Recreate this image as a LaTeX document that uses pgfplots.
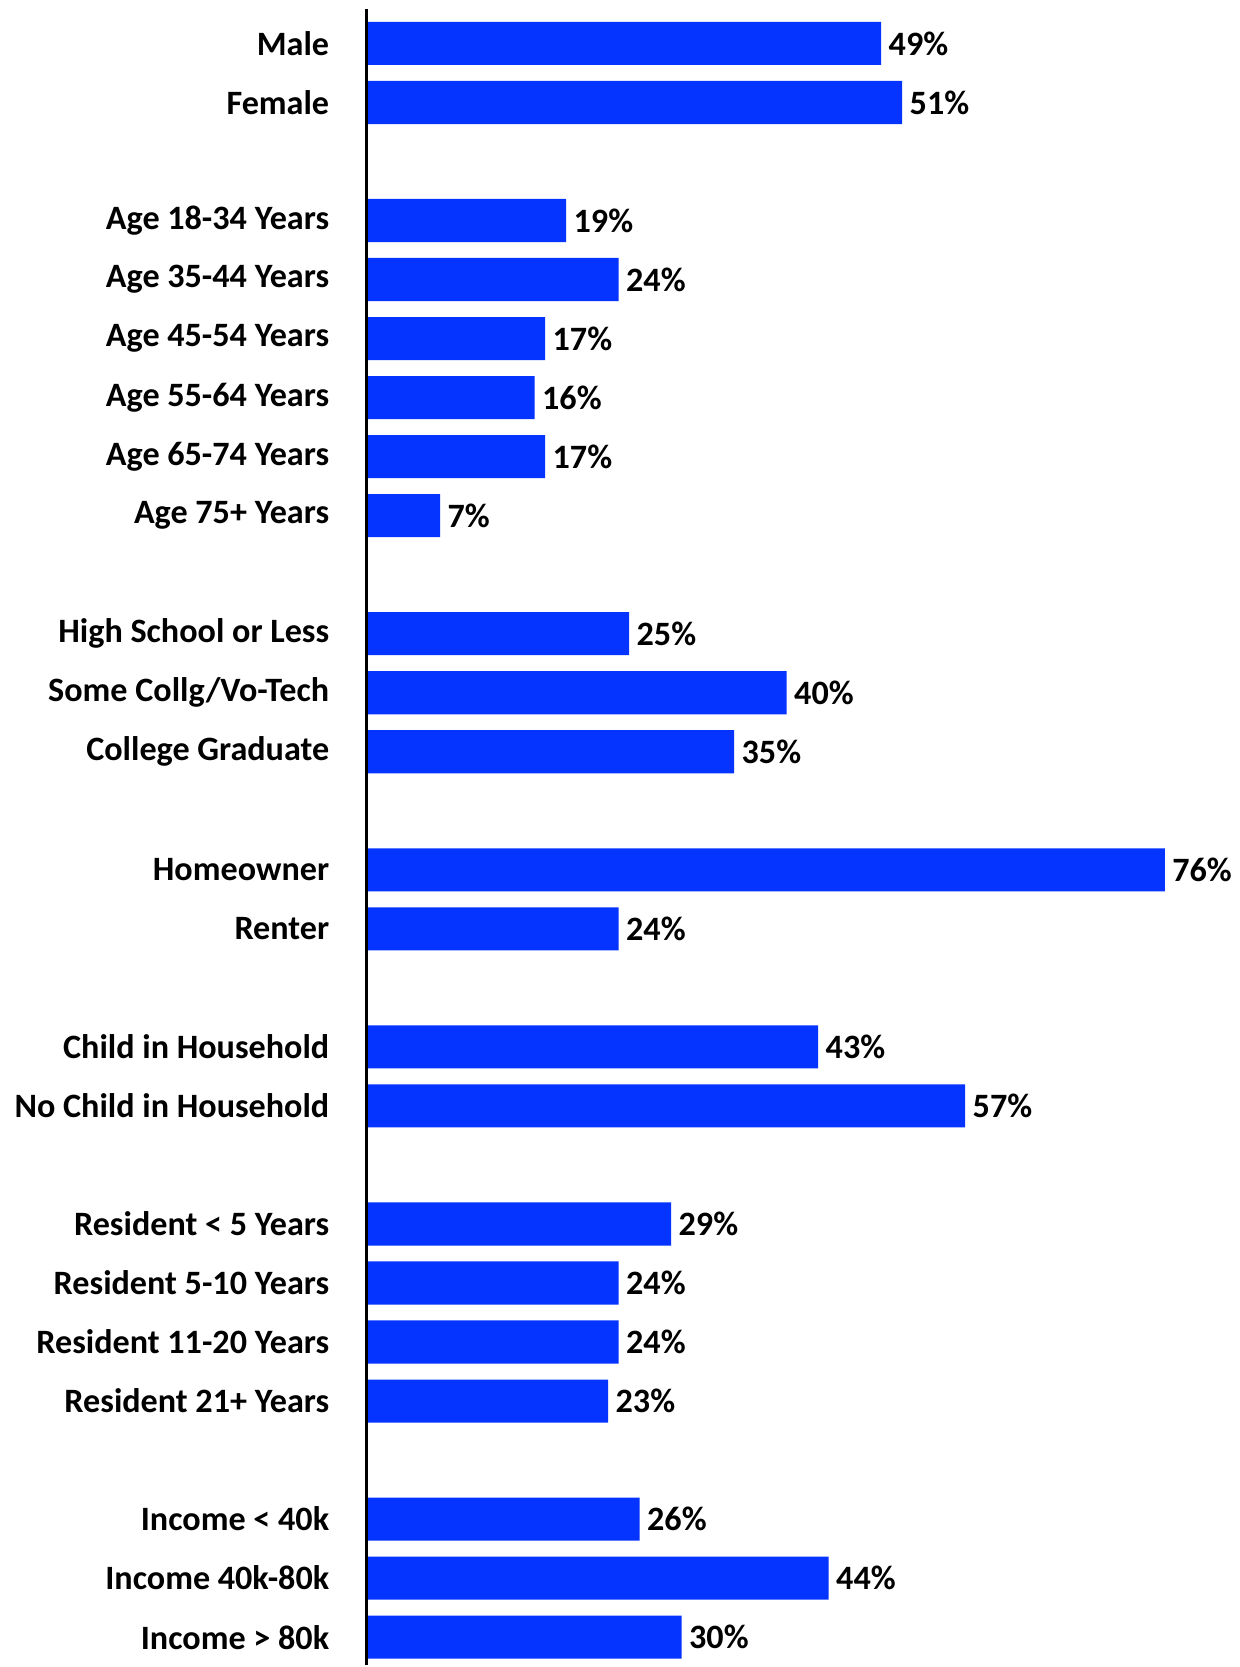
\documentclass[border=0pt]{standalone}
\usepackage{pgfplots}
\pgfplotsset{compat=1.18}
\usepackage{fontspec}
\setmainfont{Carlito}
\definecolor{barblue}{RGB}{5,51,255}

\begin{document}
\begin{tikzpicture}
\begin{axis}[
    xbar,
    scale only axis,
    width=314.3pt,
    height=600.1pt,
    xmin=0, xmax=83.06,
    ymin=-0.736, ymax=27.48,
    y dir=reverse,
    bar width=0.73,
    axis line style={draw=none},
    xtick=\empty,
    ytick={0,1,3,4,5,6,7,8,10,11,12,14,15,17,18,20,21,22,23,25,26,27},
    yticklabels={Male,Female,Age 18-34 Years,Age 35-44 Years,Age 45-54 Years,Age 55-64 Years,Age 65-74 Years,Age 75+ Years,High School or Less,Some Collg/Vo-Tech,College Graduate,Homeowner,Renter,Child in Household,No Child in Household,Resident < 5 Years,Resident 5-10 Years,Resident 11-20 Years,Resident 21+ Years,Income < 40k,Income 40k-80k,Income > 80k},
    major tick length=0pt,
    yticklabel style={font=\fontsize{12.3}{14}\selectfont\bfseries, inner sep=0pt, xshift=-13.3pt},
    point meta=x,
    nodes near coords={\pgfmathprintnumber[assume math mode=true]{\pgfplotspointmeta}\%},
    every node near coord/.append style={font=\fontsize{12.3}{14}\selectfont\bfseries, black, anchor=west, inner sep=0pt, xshift=2.5pt},
    clip=false,
  ]
    \addplot[fill=barblue, draw=none] table {
      x y
      49 0
      51 1
      19 3
      24 4
      17 5
      16 6
      17 7
      7 8
      25 10
      40 11
      35 12
      76 14
      24 15
      43 17
      57 18
      29 20
      24 21
      24 22
      23 23
      26 25
      44 26
      30 27
    };
    \draw[line width=1.1pt] (axis cs:0,-0.584) -- (axis cs:0,27.48);
  \end{axis}
  \path (current axis.south west) ++(-132.1pt,0pt);
\end{tikzpicture}
\end{document}
